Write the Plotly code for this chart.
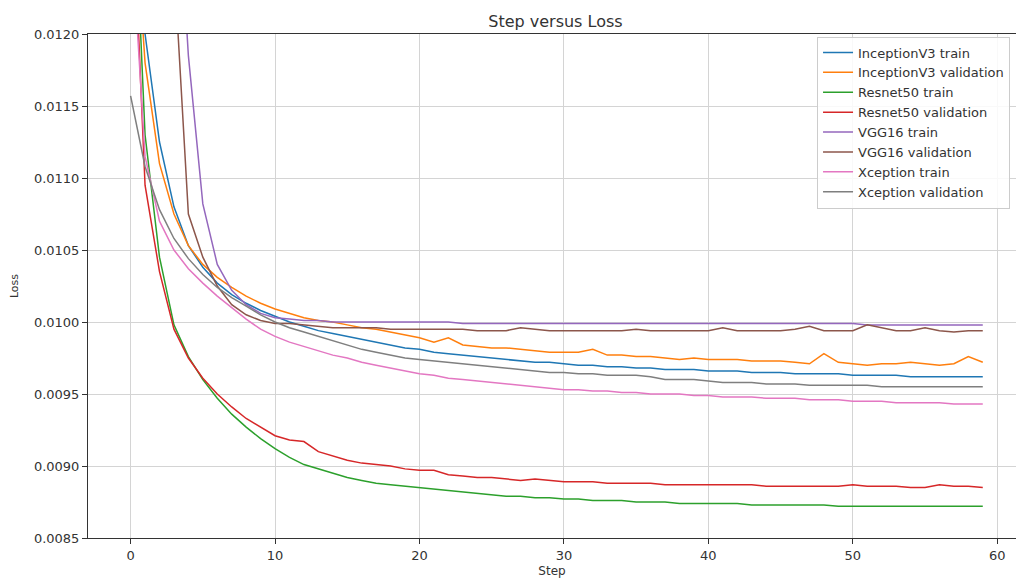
import plotly.graph_objects as go

steps = list(range(60))

inception_train = [0.01350, 0.01200, 0.01125, 0.01080, 0.01053, 0.01038, 0.01027, 0.01019, 0.01013, 0.01008,
                   0.01004, 0.01000, 0.00997, 0.00994, 0.00992, 0.00990, 0.00988, 0.00986, 0.00984, 0.00982,
                   0.00981, 0.00979, 0.00978, 0.00977, 0.00976, 0.00975, 0.00974, 0.00973, 0.00972, 0.00972,
                   0.00971, 0.00970, 0.00970, 0.00969, 0.00969, 0.00968, 0.00968, 0.00967, 0.00967, 0.00967,
                   0.00966, 0.00966, 0.00966, 0.00965, 0.00965, 0.00965, 0.00964, 0.00964, 0.00964, 0.00964,
                   0.00963, 0.00963, 0.00963, 0.00963, 0.00962, 0.00962, 0.00962, 0.00962, 0.00962, 0.00962]

inception_val = [0.01330, 0.01180, 0.01110, 0.01075, 0.01053, 0.01040, 0.01031, 0.01024, 0.01018, 0.01013,
                 0.01009, 0.01006, 0.01003, 0.01001, 0.01000, 0.00998, 0.00996, 0.00995, 0.00993, 0.00991,
                 0.00989, 0.00986, 0.00989, 0.00984, 0.00983, 0.00982, 0.00982, 0.00981, 0.00980, 0.00979,
                 0.00979, 0.00979, 0.00981, 0.00977, 0.00977, 0.00976, 0.00976, 0.00975, 0.00974, 0.00975,
                 0.00974, 0.00974, 0.00974, 0.00973, 0.00973, 0.00973, 0.00972, 0.00971, 0.00978, 0.00972,
                 0.00971, 0.00970, 0.00971, 0.00971, 0.00972, 0.00971, 0.00970, 0.00971, 0.00976, 0.00972]

resnet_train = [0.01360, 0.01130, 0.01045, 0.00998, 0.00976, 0.00960, 0.00947, 0.00936, 0.00927, 0.00919,
                0.00912, 0.00906, 0.00901, 0.00898, 0.00895, 0.00892, 0.00890, 0.00888, 0.00887, 0.00886,
                0.00885, 0.00884, 0.00883, 0.00882, 0.00881, 0.00880, 0.00879, 0.00879, 0.00878, 0.00878,
                0.00877, 0.00877, 0.00876, 0.00876, 0.00876, 0.00875, 0.00875, 0.00875, 0.00874, 0.00874,
                0.00874, 0.00874, 0.00874, 0.00873, 0.00873, 0.00873, 0.00873, 0.00873, 0.00873, 0.00872,
                0.00872, 0.00872, 0.00872, 0.00872, 0.00872, 0.00872, 0.00872, 0.00872, 0.00872, 0.00872]

resnet_val = [0.01330, 0.01095, 0.01035, 0.00995, 0.00975, 0.00961, 0.00950, 0.00941, 0.00933, 0.00927,
              0.00921, 0.00918, 0.00917, 0.00910, 0.00907, 0.00904, 0.00902, 0.00901, 0.00900, 0.00898,
              0.00897, 0.00897, 0.00894, 0.00893, 0.00892, 0.00892, 0.00891, 0.00890, 0.00891, 0.00890,
              0.00889, 0.00889, 0.00889, 0.00888, 0.00888, 0.00888, 0.00888, 0.00887, 0.00887, 0.00887,
              0.00887, 0.00887, 0.00887, 0.00887, 0.00886, 0.00886, 0.00886, 0.00886, 0.00886, 0.00886,
              0.00887, 0.00886, 0.00886, 0.00886, 0.00885, 0.00885, 0.00887, 0.00886, 0.00886, 0.00885]

vgg_train = [0.02100, 0.01800, 0.01550, 0.01350, 0.01185, 0.01082, 0.01040, 0.01022, 0.01012, 0.01006,
             0.01003, 0.01002, 0.01001, 0.01001, 0.01000, 0.01000, 0.01000, 0.01000, 0.01000, 0.01000,
             0.01000, 0.01000, 0.01000, 0.00999, 0.00999, 0.00999, 0.00999, 0.00999, 0.00999, 0.00999,
             0.00999, 0.00999, 0.00999, 0.00999, 0.00999, 0.00999, 0.00999, 0.00999, 0.00999, 0.00999,
             0.00999, 0.00999, 0.00999, 0.00999, 0.00999, 0.00999, 0.00999, 0.00999, 0.00999, 0.00999,
             0.00999, 0.00998, 0.00998, 0.00998, 0.00998, 0.00998, 0.00998, 0.00998, 0.00998, 0.00998]

vgg_val = [0.01900, 0.01650, 0.01420, 0.01250, 0.01075, 0.01045, 0.01025, 0.01012, 0.01005, 0.01001,
           0.00999, 0.00999, 0.00998, 0.00997, 0.00996, 0.00996, 0.00996, 0.00996, 0.00995, 0.00995,
           0.00995, 0.00995, 0.00995, 0.00995, 0.00994, 0.00994, 0.00994, 0.00996, 0.00995, 0.00994,
           0.00994, 0.00994, 0.00994, 0.00994, 0.00994, 0.00995, 0.00994, 0.00994, 0.00994, 0.00994,
           0.00994, 0.00996, 0.00994, 0.00994, 0.00994, 0.00994, 0.00995, 0.00997, 0.00994, 0.00994,
           0.00994, 0.00998, 0.00996, 0.00994, 0.00994, 0.00996, 0.00994, 0.00993, 0.00994, 0.00994]

xception_train = [0.01280, 0.01115, 0.01070, 0.01050, 0.01037, 0.01027, 0.01018, 0.01010, 0.01002, 0.00995,
                  0.00990, 0.00986, 0.00983, 0.00980, 0.00977, 0.00975, 0.00972, 0.00970, 0.00968, 0.00966,
                  0.00964, 0.00963, 0.00961, 0.00960, 0.00959, 0.00958, 0.00957, 0.00956, 0.00955, 0.00954,
                  0.00953, 0.00953, 0.00952, 0.00952, 0.00951, 0.00951, 0.00950, 0.00950, 0.00950, 0.00949,
                  0.00949, 0.00948, 0.00948, 0.00948, 0.00947, 0.00947, 0.00947, 0.00946, 0.00946, 0.00946,
                  0.00945, 0.00945, 0.00945, 0.00944, 0.00944, 0.00944, 0.00944, 0.00943, 0.00943, 0.00943]

xception_val = [0.01157, 0.01108, 0.01078, 0.01058, 0.01044, 0.01033, 0.01024, 0.01017, 0.01011, 0.01005,
                0.01000, 0.00996, 0.00993, 0.00990, 0.00987, 0.00984, 0.00981, 0.00979, 0.00977, 0.00975,
                0.00974, 0.00973, 0.00972, 0.00971, 0.00970, 0.00969, 0.00968, 0.00967, 0.00966, 0.00965,
                0.00965, 0.00964, 0.00964, 0.00963, 0.00963, 0.00963, 0.00962, 0.00960, 0.00960, 0.00960,
                0.00959, 0.00958, 0.00958, 0.00958, 0.00957, 0.00957, 0.00957, 0.00956, 0.00956, 0.00956,
                0.00956, 0.00956, 0.00955, 0.00955, 0.00955, 0.00955, 0.00955, 0.00955, 0.00955, 0.00955]

series_names = ["InceptionV3 train", "InceptionV3 validation", "Resnet50 train", "Resnet50 validation",
                "VGG16 train", "VGG16 validation", "Xception train", "Xception validation"]
series_values = [inception_train, inception_val, resnet_train, resnet_val,
                 vgg_train, vgg_val, xception_train, xception_val]
colors = ["#1f77b4", "#ff7f0e", "#2ca02c", "#d62728", "#9467bd", "#8c564b", "#e377c2", "#7f7f7f"]

y_ticks = [0.0085, 0.0090, 0.0095, 0.0100, 0.0105, 0.0110, 0.0115, 0.0120]
x_ticks = [0, 10, 20, 30, 40, 50, 60]

FONT = "DejaVu Sans"
fig = go.Figure()
for name, vals, col in zip(series_names, series_values, colors):
    fig.add_trace(go.Scatter(x=steps, y=vals, mode="lines", name=name,
                             line=dict(color=col, width=1.5)))

fig.update_layout(
    width=1016, height=580,
    margin=dict(l=88, r=0, t=34, b=42),
    paper_bgcolor="white", plot_bgcolor="white",
    font=dict(family=FONT, size=13, color="#333"),
    title=dict(text="Step versus Loss", x=0.5467, xref="container", xanchor="center",
               y=1 - 21.5 / 580, yref="container", yanchor="middle",
               font=dict(family=FONT, size=16, color="#333")),
    legend=dict(x=0.7856, y=0.995, xanchor="left", yanchor="top",
                bgcolor="rgba(255,255,255,0.85)", bordercolor="#cccccc", borderwidth=1,
                font=dict(family=FONT, size=13, color="#333")),
    showlegend=True,
)
fig.update_xaxes(range=[-2.95, 61.3], tickvals=x_ticks, showgrid=True, gridcolor="#d4d4d4", gridwidth=1,
                 showline=True, linecolor="#333", linewidth=1, mirror=True,
                 ticks="outside", ticklen=5, tickcolor="#333", zeroline=False,
                 tickfont=dict(family=FONT, size=13, color="#333"),
                 title=dict(text="Step", standoff=5, font=dict(family=FONT, size=12, color="#333")))
fig.update_yaxes(range=[0.0085, 0.0120], tickvals=y_ticks, tickformat=".4f", showgrid=True,
                 gridcolor="#d4d4d4", gridwidth=1,
                 showline=True, linecolor="#333", linewidth=1, mirror=False,
                 ticks="outside", ticklen=5, tickcolor="#333", zeroline=False,
                 tickfont=dict(family=FONT, size=13, color="#333"),
                 title=dict(text="Loss", standoff=13, font=dict(family=FONT, size=11, color="#333")))

fig.write_html("out.html")
